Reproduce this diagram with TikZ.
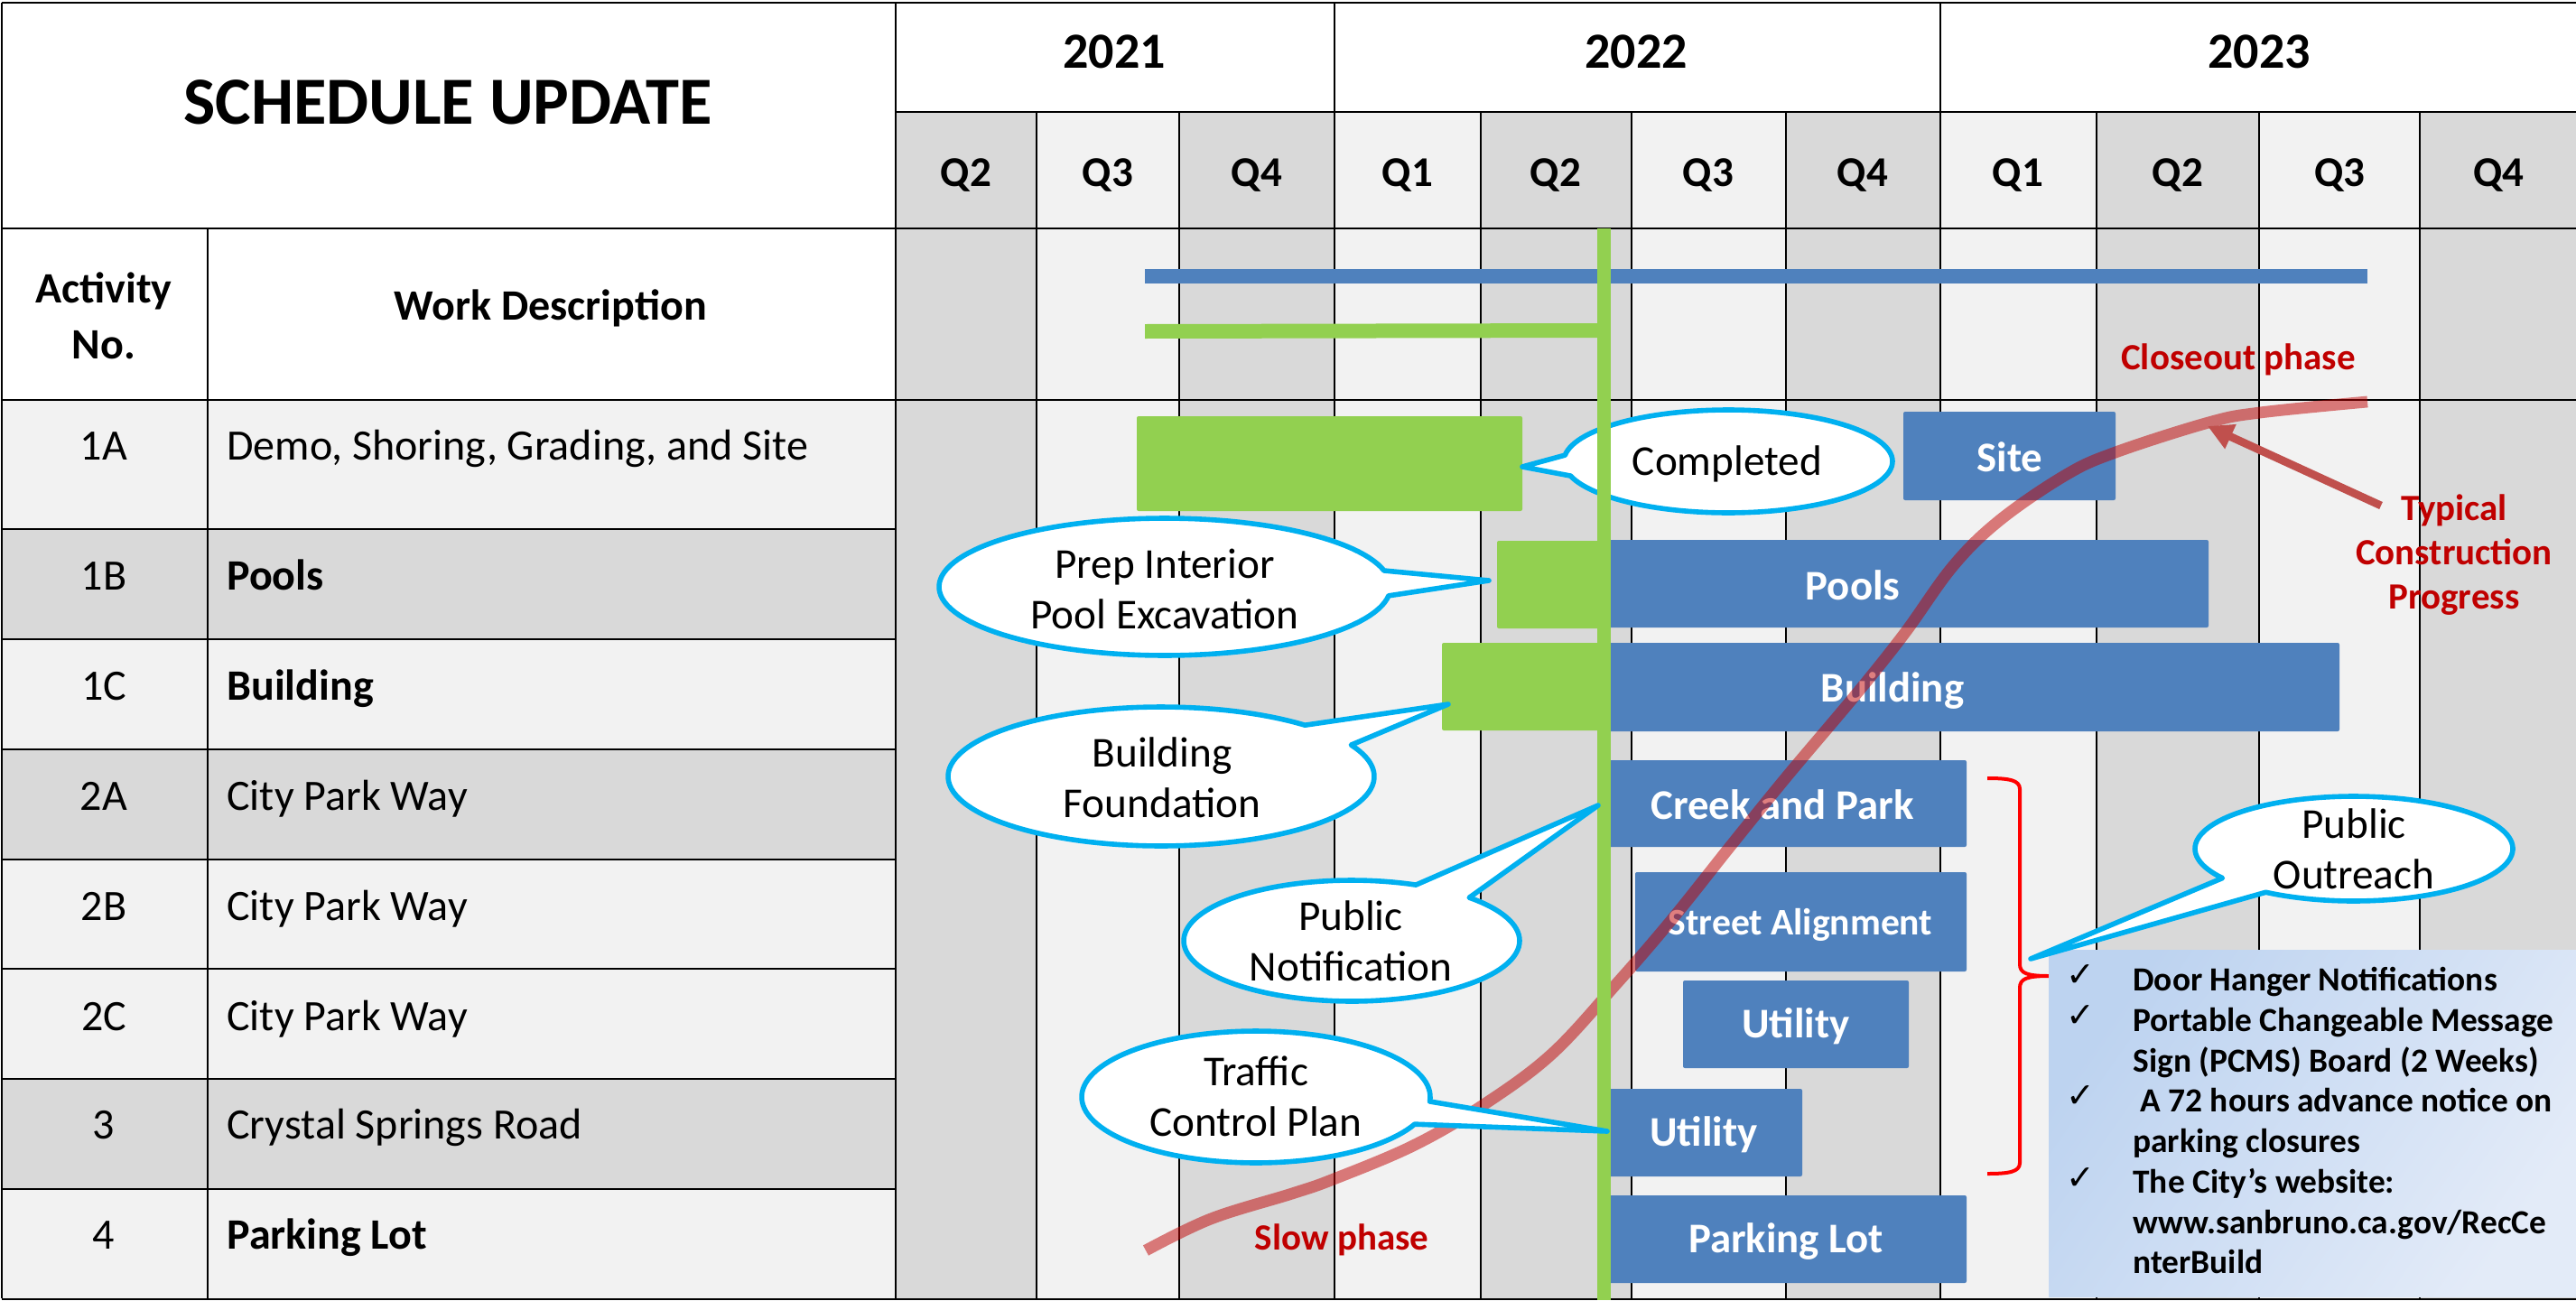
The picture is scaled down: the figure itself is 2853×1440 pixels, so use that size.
\documentclass[tikz,border=0pt]{standalone}
\usepackage{fontspec}
\setmainfont{Carlito}
\newfontfamily\chkfont{DejaVu Sans}
\usetikzlibrary{arrows.meta}
\definecolor{bandA}{HTML}{D9D9D9}
\definecolor{bandB}{HTML}{F2F2F2}
\definecolor{barblue}{HTML}{4F81BD}
\definecolor{bargreen}{HTML}{92D050}
\definecolor{callblue}{HTML}{00B0F0}
\definecolor{curvered}{HTML}{C00000}
\definecolor{arrowred}{HTML}{C0504D}
\definecolor{labelred}{HTML}{C00000}
\definecolor{boxA}{HTML}{BDD3F0}
\definecolor{boxB}{HTML}{E3EBF8}
\newcommand{\fs}[2]{\fontsize{#1}{#2}\selectfont}
\newcommand{\bargo}[5]{\fill[#1,rounded corners=1pt] (#2,#3) rectangle (#4,#5);}
% cx cy rx ry  bAx bAy  bBx bBy  tip
\newcommand{\callout}[9]{%
  \pgfmathsetmacro\ca{atan2((#6-#2)/#4,(#5-#1)/#3)}%
  \pgfmathsetmacro\cb{atan2((#8-#2)/#4,(#7-#1)/#3)}%
  \pgfmathsetmacro\cd{mod(\cb-\ca+720,360)}%
  \pgfmathsetmacro\cs{\cd>180?\ca:\cb}%
  \pgfmathsetmacro\ce{\cd>180?\ca+\cd:\cb+360-\cd}%
  \calloutb{#1}{#2}{#3}{#4}{#9}}
\newcommand{\calloutb}[5]{%
  \draw[callshape] plot[domain=\cs:\ce,samples=120,variable=\t] ({#1+#3*cos(\t)},{#2+#4*sin(\t)}) -- (#5) -- cycle;}
\tikzset{
  grid/.style={black,line width=1.1pt},
  heavy/.style={black,line width=1.3pt},
  callshape/.style={draw=callblue,fill=white,line width=2.8pt,line join=round},
  calltext/.style={font=\fs{23.6}{28},align=center,inner sep=0pt,text=black},
  bartext/.style={font=\bfseries\fs{23.4}{28},text=white,inner sep=0pt},
  redtext/.style={font=\bfseries\fs{20.5}{24.5},text=labelred,align=center,inner sep=0pt},
  qtext/.style={font=\bfseries\fs{23.5}{28},inner sep=0pt},
  rowtext/.style={font=\fs{24}{28},anchor=base west,inner sep=0pt},
  rowbold/.style={font=\bfseries\fs{24}{28},anchor=base west,inner sep=0pt},
  rowno/.style={font=\fs{24}{28},anchor=base,inner sep=0pt},
  boxtext/.style={font=\bfseries\fs{18.7}{22},anchor=base west,inner sep=0pt},
  chk/.style={font=\chkfont\fs{19}{22},inner sep=0pt},
}
\begin{document}
\begin{tikzpicture}[x=.5pt,y=-.5pt]
\useasboundingbox (0,0) rectangle (2853,1440);
\fill[white] (0,0) rectangle (2853,1440);
% table rows
\foreach \ya/\yb/\c in {443/586/bandB,586/708/bandA,708/830/bandB,830/952/bandA,952/1073/bandB,1073/1195/bandB,1195/1317/bandA,1317/1438/bandB}
  \fill[\c] (2,\ya) rectangle (992,\yb);
% chart columns
\foreach \xa/\xb/\c in {992/1148/bandA,1148/1306/bandB,1306/1478/bandA,1478/1640/bandB,1640/1807/bandA,1807/1978/bandB,1978/2149/bandA,2149/2322/bandB,2322/2502/bandA,2502/2680/bandB,2680/2853/bandA}
  \fill[\c] (\xa,124) rectangle (\xb,1438);
% grid
\foreach \x in {1148,1306,1640,1807,1978,2322,2502,2680}
  \draw[grid] (\x,124) -- (\x,1438);
\foreach \x in {1478,2149}
  \draw[grid] (\x,3) -- (\x,1438);
\draw[heavy] (2,3) -- (2853,3);
\draw[heavy] (992,124) -- (2853,124);
\draw[heavy] (2,253) -- (2853,253);
\draw[heavy] (2,443) -- (2853,443);
\draw[heavy] (2,1439) -- (2853,1439);
\foreach \y in {586,708,830,952,1073,1195,1317}
  \draw[heavy] (2,\y) -- (992,\y);
\draw[heavy] (2,3) -- (2,1438);
\draw[heavy] (992,3) -- (992,1438);
\draw[grid] (230,253) -- (230,1438);
% headings
\node[font=\bfseries\fs{37.3}{40},inner sep=0pt] (title) at (496,113) {SCHEDULE UPDATE};
\node[font=\bfseries\fs{24}{31},align=center,inner sep=0pt] (act) at (115,350) {Activity\\No.};
\node[qtext,font=\bfseries\fs{24}{28}] (work) at (610,341) {Work Description};
\node[font=\bfseries\fs{28}{30},inner sep=0pt] (y1) at (1234,57) {2021};
\node[font=\bfseries\fs{28}{30},inner sep=0pt] (y2) at (1812,57) {2022};
\node[font=\bfseries\fs{28}{30},inner sep=0pt] (y3) at (2502,57) {2023};
\foreach \n/\x/\q in {a/1070/Q2,b/1227/Q3,c/1392/Q4,d/1559/Q1,e/1723/Q2,f/1892/Q3,g/2063/Q4,h/2235/Q1,i/2412/Q2,j/2591/Q3,k/2767/Q4}
  \node[qtext] (q\n) at (\x,194) {\q};
% row labels
\foreach \n/\y/\t in {1A/509/1A,1B/653/1B,1C/775/1C,2A/897/2A,2B/1019/2B,2C/1141/2C,3/1261/3,4/1383/4}
  \node[rowno] (no\n) at (115,\y) {\t};
\node[rowtext] (d1A) at (251,509) {Demo, Shoring, Grading, and Site};
\node[rowbold] (d1B) at (251,653) {Pools};
\node[rowbold] (d1C) at (251,775) {Building};
\node[rowtext] (d2A) at (251,897) {City Park Way};
\node[rowtext] (d2B) at (251,1019) {City Park Way};
\node[rowtext] (d2C) at (251,1141) {City Park Way};
\node[rowtext] (d3) at (251,1261) {Crystal Springs Road};
\node[rowbold] (d4) at (251,1383) {Parking Lot};
% overall bars
\fill[barblue] (1268,298) rectangle (2622,314);
\fill[bargreen] (1268,359) -- (1775,358) -- (1775,374) -- (1268,375) -- cycle;
% activity bars
\bargo{bargreen}{1259}{461}{1686}{566}
\bargo{barblue}{2108}{456}{2343}{554}
\bargo{bargreen}{1658}{599}{1775}{696}
\bargo{barblue}{1775}{598}{2446}{695}
\bargo{bargreen}{1597}{712}{1775}{809}
\bargo{barblue}{1775}{712}{2591}{810}
\bargo{barblue}{1775}{842}{2178}{938}
\bargo{barblue}{1811}{966}{2178}{1076}
\bargo{barblue}{1864}{1086}{2114}{1183}
\bargo{barblue}{1775}{1206}{1996}{1303}
\bargo{barblue}{1775}{1324}{2178}{1421}
\node[bartext] (site) at (2226,506) {Site};
\node[bartext] (pools) at (2052,648) {Pools};
\node[bartext] (bldg) at (2096,765) {Building};
\node[bartext] (creek) at (1974,891) {Creek and Park};
\node[bartext,font=\bfseries\fs{20.8}{24}] (street) at (1994,1024) {Street Alignment};
\node[bartext] (util1) at (1989,1137) {Utility};
\node[bartext] (util2) at (1887,1257) {Utility};
\node[bartext] (park) at (1978,1375) {Parking Lot};
% progress curve
\draw[curvered,opacity=.5,line width=6.4pt] plot[smooth,tension=.6] coordinates {(1269,1385) (1341,1350) (1431,1322) (1477,1306) (1565,1269) (1641,1225) (1718,1168) (1790,1090) (1852,1018) (1915,939) (1979,860) (2054,771) (2109,702) (2163,627) (2215,576) (2288,526) (2343,501) (2446,468) (2503,457) (2622,445)};
% completed callout sits under the status line
\callout{1914}{511}{182}{57}{1731}{504}{1740}{527}{1686,517}
\fill[bargreen] (1769,253) rectangle (1783.5,1440);
\node[calltext] (completed) at (1913,514) {Completed};
% other callouts
\callout{1290}{650}{250}{76}{1533}{632}{1541}{660}{1649,643}
\node[calltext] (prep) at (1290,652) {Prep Interior\\Pool Excavation};
\callout{1286}{860}{236}{77}{1443}{804}{1497}{825}{1604,780}
\node[calltext] (found) at (1287,861) {Building\\Foundation};
\callout{1497}{1042}{186}{67}{1566}{982}{1625}{995}{1770,892}
\node[calltext] (notif) at (1496,1042) {Public\\Notification};
\callout{1391}{1215}{193}{73}{1584}{1220}{1566}{1245}{1780,1253}
\node[calltext] (traffic) at (1391,1214) {Traffic\\Control Plan};
% red labels and arrow
\node[redtext] (closeout) at (2479,398) {Closeout phase};
\node[redtext] (typical) at (2718,615) {Typical\\Construction\\Progress};
\node[redtext] (slow) at (1486,1373) {Slow phase};
\coordinate (arrowStart) at (2637,560);
\coordinate (arrowTip) at (2445,472);
\draw[arrowred,line width=4.4pt,-{Triangle[length=14pt,width=14pt]}] (arrowStart) -- (arrowTip);
% brace
\draw[red,line width=2pt,line join=round] (2201,862) .. controls (2225,862) and (2237,864) .. (2237,874) -- (2237,1068) .. controls (2237,1078) and (2245,1081) .. (2269,1081) .. controls (2245,1081) and (2237,1084) .. (2237,1094) -- (2237,1288) .. controls (2237,1298) and (2225,1300) .. (2201,1300);
% outreach box
\shade[left color=boxA,right color=boxB,shading angle=55] (2269,1052) rectangle (2853,1436);
\foreach \n/\y in {p/1081,q/1126,r/1215,s/1306}
  \node[chk] (chk\n) at (2304,\y) {✓};
\node[boxtext] (b1) at (2362,1097) {Door Hanger Notifications};
\node[boxtext] (b2) at (2362,1142) {Portable Changeable Message};
\node[boxtext] (b3) at (2362,1187) {Sign (PCMS) Board (2 Weeks)};
\node[boxtext] (b4) at (2370,1231) {A 72 hours advance notice on};
\node[boxtext] (b5) at (2362,1276) {parking closures};
\node[boxtext] (b6) at (2362,1321) {The City’s website:};
\node[boxtext] (b7) at (2362,1366) {www.sanbruno.ca.gov/RecCe};
\node[boxtext] (b8) at (2362,1410) {nterBuild};
% outreach callout
\callout{2607}{940}{176}{58}{2464}{972}{2512}{987}{2249,1062}
\node[calltext] (outreach) at (2607,940) {Public\\Outreach};
\end{tikzpicture}
\end{document}
